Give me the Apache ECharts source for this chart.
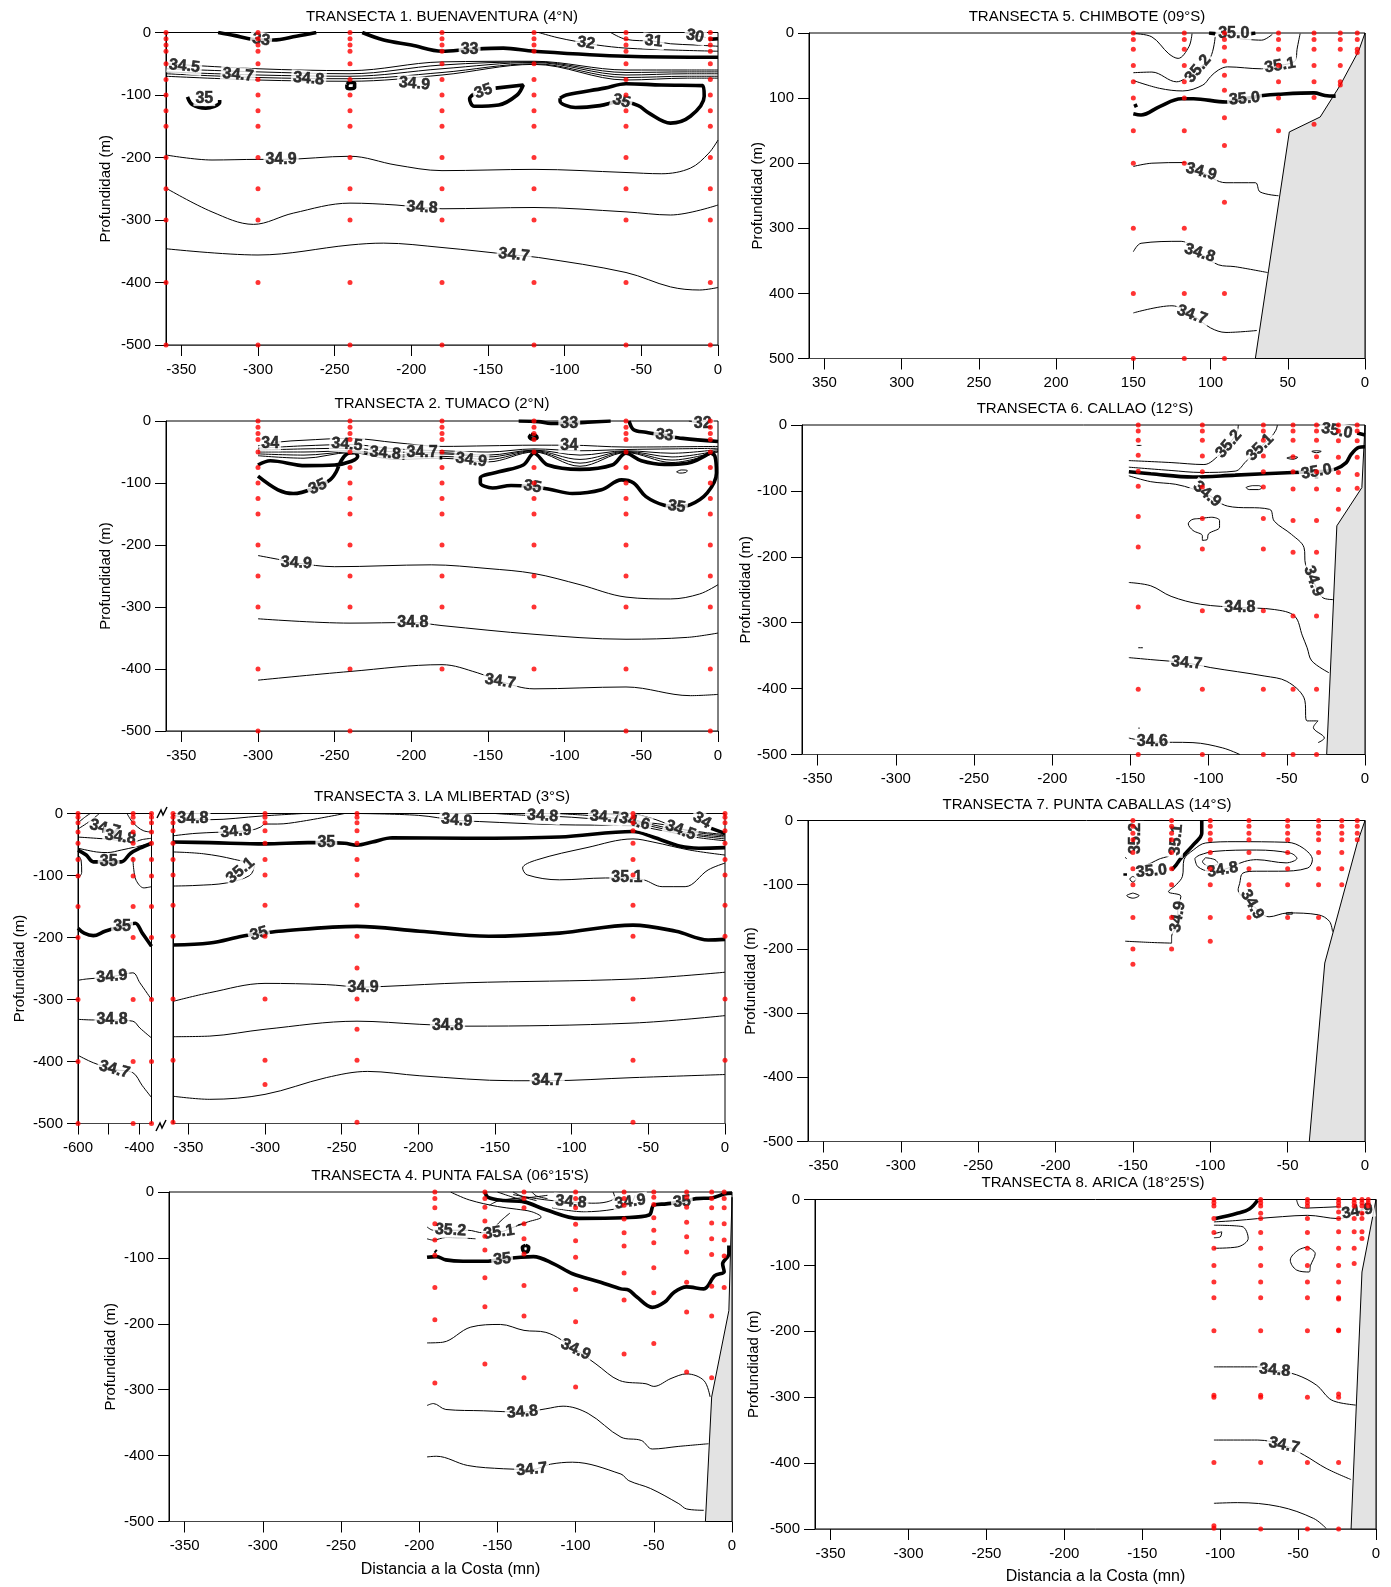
<!DOCTYPE html>
<html><head><meta charset="utf-8">
<script src="https://cdn.jsdelivr.net/npm/echarts@6/dist/echarts.min.js"></script>
<style>html,body{margin:0;padding:0;background:#fff}#c{width:1391px;height:1587px}</style>
</head><body><div id="c"></div>
<script>
// ================= DATA =================
// ---- Transecta 1. Buenaventura ----
const p1Cols = [-360, -300, -240, -180, -120, -60, -5];
const p1StdDepth = [0, -10, -20, -30, -50, -75, -100, -125, -150, -200, -250, -300, -400, -500];
const p1Depths = [p1StdDepth, p1StdDepth, p1StdDepth, p1StdDepth, p1StdDepth, p1StdDepth, p1StdDepth];
const p1Thin = [
  [[-117,0],[-105,-8],[-93,-14],[-79,-20],[-60,-25],[-30,-28],[0,-30]],
  [[-70,0],[-60,-11],[-42,-14],[-31,-18],[-15,-20],[0,-22]],
  [[-22,0],[-15,-5],[-8,-8]],
  [[-360,-50],[-300,-58],[-240,-61],[-180,-47],[-120,-46],[-60,-60],[-20,-60],[0,-60]],
  [[-360,-58],[-300,-63],[-240,-66],[-180,-52],[-120,-47],[-60,-64],[-20,-63],[0,-63]],
  [[-360,-63],[-300,-68],[-240,-70],[-180,-58],[-120,-48],[-60,-68],[-20,-66],[0,-66]],
  [[-360,-66],[-300,-72],[-240,-74],[-180,-64],[-120,-50],[-60,-72],[-20,-70],[0,-70]],
  [[-360,-70],[-300,-76],[-240,-78],[-180,-68],[-120,-51],[-60,-76],[-20,-73],[0,-73]],
  [[-360,-196],[-330,-204],[-300,-203],[-285,-203],[-240,-198],[-210,-212],[-180,-221],[-120,-219],[-60,-224],[-37,-226],[-18,-217],[-6,-193],[0,-172]],
  [[-360,-249],[-330,-287],[-303,-307],[-277,-289],[-240,-273],[-210,-276],[-193,-280],[-180,-282],[-120,-280],[-60,-287],[-31,-292],[0,-276]],
  [[-360,-346],[-300,-356],[-240,-340],[-218,-337],[-180,-344],[-133,-356],[-117,-360],[-60,-384],[-31,-407],[-12,-412],[0,-408]]
];
const p1Thick = [
  [[-326,0],[-315,-5],[-306,-10],[-298,-12],[-290,-12],[-275,-6],[-262,0]],
  [[-232,0],[-218,-12],[-200,-20],[-180,-30],[-162,-27],[-140,-25],[-120,-30],[-60,-38],[0,-39.5]],
  [[-6,-11],[0,-10]],
  [[-242,-83],[-240,-80],[-237,-81],[-237,-88],[-240,-90],[-242,-88],[-242,-83]],
  [[-346,-103],[-343,-115],[-334,-121],[-325,-112],[-325,-108]],
  [[-145,-89],[-127,-84],[-131,-100],[-143,-116],[-159,-118],[-162,-106],[-159,-98]],
  [[-103,-105],[-99,-100],[-74,-89],[-60,-82],[-37,-84],[-10,-85],[-9,-102],[-18,-134],[-31,-145],[-45,-129],[-52,-117],[-63,-110],[-77,-117],[-93,-120],[-103,-110],[-103,-105]]
];
const p1Labels = [["33",-298,-12],["33",-162,-28],["32",-86,-17],["31",-42,-14],["30",-15,-6],["34.5",-348,-54],["34.7",-313,-68],["34.8",-267,-74],["34.9",-198,-82],["35",-335,-105],["35",-153,-94],["35",-63,-110],["34.9",-285,-203],["34.8",-193,-280],["34.7",-133,-356]];
const p1LabelRot = [-8,0,-8,-5,-12,-6,-6,-5,-5,0,20,-15,0,-3,-6];

// ---- Transecta 2. Tumaco ----
const p2Cols = [-300, -240, -180, -120, -60, -5];
const p2Full = [0, -10, -20, -30, -50, -75, -100, -125, -150, -200, -250, -300, -400, -500];
const p2Short = [0, -10, -20, -30, -50, -75, -100, -125, -150, -200, -250, -300, -400];
const p2Depths = [p2Full, p2Full, p2Short, p2Short, p2Full, p2Full];
const p2Thin = [
  [[-19,0],[-12,-4]],
  [[-300,-40],[-287,-34],[-270,-31],[-240,-28],[-210,-35],[-180,-41],[-150,-40],[-120,-39],[-97,-39],[-60,-42],[0,-41]],
  [[-300,-44],[-270,-40],[-240,-38],[-210,-45],[-180,-48],[-150,-50],[-120,-45],[-90,-48],[-60,-46],[-30,-45],[0,-44]],
  [[-300,-47],[-270,-45],[-240,-44],[-210,-50],[-180,-51],[-150,-55],[-120,-47],[-90,-55],[-60,-48],[-30,-52],[0,-46]],
  [[-300,-50],[-270,-50],[-240,-48],[-210,-55],[-180,-53],[-150,-58],[-120,-48],[-90,-62],[-60,-49],[-30,-58],[0,-48]],
  [[-300,-53],[-270,-55],[-240,-50],[-210,-58],[-180,-57],[-150,-62],[-120,-49],[-90,-68],[-60,-50],[-30,-63],[0,-49]],
  [[-300,-56],[-270,-60],[-240,-51],[-210,-62],[-180,-60],[-150,-66],[-120,-50],[-90,-73],[-60,-51],[-30,-67],[0,-50]],
  [[-27,-82],[-24,-79],[-20,-80],[-21,-83],[-25,-84],[-27,-82]],
  [[-300,-217],[-285,-224],[-275,-229],[-250,-235],[-187,-232],[-150,-238],[-120,-246],[-90,-264],[-60,-284],[-31,-287],[-12,-279],[0,-264]],
  [[-300,-319],[-240,-326],[-199,-325],[-180,-330],[-120,-344],[-60,-352],[-20,-349],[0,-342]],
  [[-300,-418],[-240,-404],[-180,-393],[-157,-406],[-142,-420],[-120,-432],[-60,-429],[-18,-443],[0,-441]]
];
const p2Thick = [
  [[-130,0],[-117,-1],[-109,-4],[-97,-4],[-85,-2],[-70,0]],
  [[-122,-22],[-119,-23],[-118,-27],[-121,-29],[-123,-26],[-122,-22]],
  [[-58,0],[-55,-14],[-47,-18],[-35,-23],[-23,-28],[0,-33]],
  [[-300,-89],[-287,-111],[-277,-117],[-261,-106],[-253,-95],[-249,-82],[-246,-65],[-242,-53],[-237,-51],[-235,-57],[-239,-65],[-250,-71],[-269,-72],[-292,-64],[-300,-71]],
  [[-5,-51],[-20,-68],[-35,-70],[-50,-64],[-60,-52],[-69,-71],[-90,-78],[-111,-71],[-120,-52],[-127,-71],[-143,-82],[-155,-92],[-155,-100],[-147,-108],[-135,-104],[-121,-106],[-110,-110],[-95,-117],[-76,-111],[-63,-95],[-55,-100],[-47,-122],[-35,-136],[-27,-138],[-18,-135],[-7,-116],[-1,-84],[-2,-57],[-5,-51]],
  [[-181,-57],[-181,-62]]
];
const p2Labels = [["33",-97,-4],["33",-35,-23],["32",-10,-4],["34",-292,-36],["34.5",-242,-38],["34.8",-217,-52],["34.7",-193,-51],["34.9",-161,-63],["34",-97,-39],["35",-261,-106],["35",-121,-106],["35",-27,-138],["34.9",-275,-229],["34.8",-199,-325],["34.7",-142,-420]];
const p2LabelRot = [0,-8,0,0,-5,-5,0,-8,0,25,-10,-8,-3,0,-8];

// ---- Transecta 3. La Libertad (left part and main part) ----
const p3aCols = [-600, -420, -360];
const p3aStd = [0, -6, -15, -30, -48, -74, -101, -150, -200, -300, -400, -500];
const p3aDepths = [p3aStd, p3aStd, p3aStd];
const p3aThin = [
  [[-600,-15],[-575,-5],[-560,0]],
  [[-600,-25],[-560,-12],[-530,0]],
  [[-600,-38],[-540,-40],[-489,-42],[-421,-46],[-390,-42],[-360,-40]],
  [[-600,-56],[-540,-62],[-504,-63],[-459,-59],[-413,-54],[-360,-48]],
  [[-440,0],[-425,-12],[-405,-22],[-385,-28],[-360,-30]],
  [[-600,-67],[-590,-75],[-588,-95],[-595,-102],[-600,-103]],
  [[-421,-70],[-418,-90],[-410,-108],[-385,-120],[-360,-118]],
  [[-600,-269],[-573,-267],[-489,-263],[-421,-257],[-398,-273],[-360,-300]],
  [[-600,-332],[-550,-333],[-489,-333],[-421,-335],[-398,-346],[-360,-362]],
  [[-600,-390],[-550,-402],[-481,-413],[-421,-418],[-390,-439],[-360,-458]]
];
const p3aThick = [
  [[-600,-59],[-573,-67],[-550,-78],[-504,-78],[-459,-78],[-428,-64],[-398,-56],[-360,-48]],
  [[-600,-185],[-580,-193],[-550,-197],[-512,-190],[-456,-182],[-413,-177],[-390,-193],[-360,-214]]
];
const p3aLabels = [["34.7",-512,-24],["34.8",-462,-38],["35",-500,-78],["35",-456,-182],["34.9",-489,-263],["34.8",-489,-333],["34.7",-481,-413]];
const p3aLabelRot = [-15,-8,0,0,5,0,-15];

const p3bCols = [-360, -300, -240, -60, 0];
const p3bDepths = [
  [0, -6, -15, -28, -48, -74, -99, -148, -198, -299, -398, -498],
  [0, -6, -15, -28, -48, -74, -99, -148, -198, -299, -398, -437],
  [0, -6, -15, -28, -48, -74, -99, -148, -198, -249, -299, -348, -398, -498],
  [0, -6, -15, -28, -48, -74, -99, -148, -198, -299, -398, -498],
  [0, -6, -15, -28, -48, -74, -99, -148, -198, -299, -398]
];
const p3bThin = [
  [[-360,-3],[-347,-8],[-336,-10],[-302,-4],[-275,0]],
  [[-360,-36],[-345,-32],[-319,-29],[-309,-27],[-303,-22],[-300,-17],[-292,-17],[-277,-13],[-248,0]],
  [[-240,0],[-200,-3],[-175,-11],[-160,-13],[-110,-18],[-60,-20],[-40,-28],[-20,-38],[0,-44]],
  [[-150,0],[-130,-3],[-119,-4],[-100,-6],[-60,-15],[-40,-25],[-20,-35],[0,-41]],
  [[-110,0],[-90,-3],[-78,-6],[-60,-12],[-40,-22],[-20,-33],[0,-38]],
  [[-80,0],[-65,-5],[-55,-13],[-40,-18],[-20,-30],[0,-36]],
  [[-60,0],[-45,-10],[-30,-24],[-15,-30],[0,-34]],
  [[0,-67],[-23,-59],[-47,-46],[-60,-41],[-90,-55],[-123,-75],[-132,-88],[-129,-99],[-108,-107],[-78,-104],[-64,-104],[-53,-107],[-41,-118],[-26,-118],[-11,-91],[0,-80]],
  [[-360,-62],[-340,-65],[-320,-74],[-307,-85],[-310,-100],[-325,-112],[-345,-116],[-360,-117]],
  [[-360,-303],[-336,-289],[-300,-274],[-260,-276],[-236,-280],[-223,-279],[-169,-273],[-60,-267],[0,-256]],
  [[-360,-360],[-336,-359],[-300,-348],[-240,-335],[-199,-340],[-181,-342],[-169,-343],[-60,-338],[0,-326]],
  [[-360,-456],[-336,-461],[-300,-453],[-260,-426],[-233,-416],[-199,-423],[-138,-431],[-116,-431],[-60,-426],[0,-421]]
];
const p3bThick = [
  [[-360,-46],[-336,-47],[-300,-49],[-272,-47],[-260,-47],[-248,-48],[-240,-51],[-230,-46],[-217,-39],[-169,-40],[-108,-38],[-60,-29],[-47,-38],[-29,-53],[-17,-56],[0,-55]],
  [[-360,-212],[-336,-209],[-315,-198],[-304,-194],[-291,-190],[-240,-182],[-199,-190],[-154,-198],[-108,-193],[-60,-180],[-32,-190],[-11,-204],[0,-203]],
  [[-9,-24],[0,-32]]
];
const p3bLabels = [["34.8",-347,-8],["34.9",-319,-29],["35.1",-316,-92],["35",-260,-47],["34.9",-175,-11],["34.8",-119,-4],["34.7",-78,-6],["34.6",-59,-13],["34.5",-29,-27],["34",-15,-11],["35.1",-64,-104],["35",-304,-194],["34.9",-236,-280],["34.8",-181,-342],["34.7",-116,-431]];
const p3bLabelRot = [0,5,40,0,-5,-3,-5,-15,-20,-30,0,15,0,0,0];

// ---- Transecta 4. Punta Falsa ----
const p4Cols = [-190, -158, -133, -100, -69, -50, -29, -13, -5];
const p4Depths = [
  [0, -10, -24, -48, -73, -96, -145, -194, -290],
  [0, -10, -23, -44, -67, -88, -130, -174, -261],
  [0, -10, -24, -48, -71, -94, -142, -188, -282],
  [0, -10, -24, -49, -74, -99, -148, -197, -296],
  [0, -10, -20, -41, -62, -82, -123, -164, -246],
  [0, -8, -19, -39, -58, -77, -115, -153, -230],
  [0, -8, -23, -46, -68, -91, -137, -182, -273],
  [0, -10, -24, -47, -71, -95, -143, -188, -282],
  [0, -10, -24, -48, -73, -97, -145]
];
const p4Land = [[0,-8],[-2,-180],[-13,-311],[-17,-500],[0,-500]];
const p4Thin = [
  [[-180,0],[-168,-12],[-150,-22],[-138,-26],[-128,-30],[-122,-38],[-130,-45],[-137,-50]],
  [[-155,-20],[-150,-14],[-140,-10],[-128,-8],[-118,-5]],
  [[-150,0],[-140,-8],[-130,-15]],
  [[-140,0],[-133,-8],[-125,-13]],
  [[-128,0],[-125,-6],[-118,-10]],
  [[-140,-4],[-125,-10],[-115,-13],[-103,-15],[-90,-17],[-80,-15],[-75,-8],[-76,0]],
  [[-115,-24],[-95,-30],[-75,-26],[-65,-18],[-62,-5]],
  [[-195,-53],[-191,-58],[-180,-58],[-169,-58],[-159,-62],[-149,-61],[-137,-51],[-132,-48]],
  [[-195,-71],[-191,-73],[-183,-69],[-164,-71]],
  [[-153,-62],[-151,-52],[-147,-42],[-142,-32]],
  [[-195,-229],[-185,-228],[-167,-205],[-148,-201],[-133,-210],[-119,-213],[-100,-239],[-87,-261],[-72,-286],[-55,-291],[-50,-295],[-39,-283],[-29,-276],[-18,-286],[-14,-311]],
  [[-195,-324],[-191,-321],[-183,-330],[-159,-332],[-134,-334],[-119,-329],[-108,-325],[-92,-336],[-71,-372],[-58,-377],[-51,-390],[-34,-386],[-15,-382]],
  [[-195,-402],[-189,-401],[-169,-415],[-146,-420],[-128,-421],[-116,-413],[-102,-410],[-71,-428],[-66,-438],[-52,-450],[-34,-473],[-29,-481],[-18,-483]]
];
const p4Thick = [
  [[-158,0],[-156,-8],[-146,-13],[-133,-15],[-119,-27],[-98,-40],[-69,-39],[-53,-35],[-50,-20],[-42,-18],[-32,-15],[-23,-10],[-13,-9],[-5,-3],[0,-2]],
  [[-195,-99],[-189,-98],[-183,-103],[-172,-105],[-156,-105],[-147,-102],[-135,-99],[-127,-98],[-114,-109],[-102,-124],[-84,-137],[-71,-147],[-66,-149],[-61,-159],[-51,-175],[-43,-167],[-37,-152],[-29,-144],[-18,-147],[-11,-127],[-5,-121],[-6,-109],[-2,-94],[-2,-81]],
  [[-132,-81],[-130,-84],[-131,-91],[-133,-91],[-134,-84],[-132,-81]],
  [[-190,-89],[-189,-91]]
];
const p4Labels = [["34.8",-103,-15],["34.9",-65,-15],["35",-32,-15],["35.2",-180,-58],["35.1",-149,-61],["35",-147,-102],["34.9",-100,-239],["34.8",-134,-334],["34.7",-128,-421]];
const p4LabelRot = [-5,8,5,-3,8,5,-25,5,5];

// ---- Transecta 5. Chimbote ----
const p5Cols = [150, 117, 91, 56, 33, 16, 5];
const p5Depths = [
  [0, 10, 25, 50, 75, 100, 150, 200, 300, 400, 500],
  [0, 10, 25, 50, 75, 100, 150, 200, 300, 400, 500],
  [0, 10, 22, 43, 65, 88, 130, 173, 260, 400, 500],
  [0, 10, 25, 50, 75, 100, 150],
  [0, 10, 25, 50, 75, 99, 140],
  [0, 10, 25, 50, 75, 80],
  [0, 10, 25, 30]
];
const p5Land = [[0,0],[4,27],[16,80],[29,129],[49,152],[71,500],[0,500]];
const p5Thin = [
  [[150,1],[138,6],[127,32],[121,39],[114,21],[112,1]],
  [[150,61],[138,60],[122,75],[112,62],[108,55],[100,37],[97,6]],
  [[150,73],[133,85],[118,89],[105,80],[100,67],[95,57],[89,52],[67,55],[55,50],[45,42],[44,25],[42,1]],
  [[81,9],[67,11],[60,2]],
  [[150,205],[138,200],[117,199],[106,213],[90,230],[71,230],[68,244],[56,250]],
  [[150,336],[145,323],[119,320],[107,338],[95,356],[84,359],[63,368]],
  [[150,430],[125,419],[112,433],[100,453],[90,460],[70,457]]
];
const p5Thick = [
  [[101,0],[97,1]],
  [[74,1],[71,0]],
  [[150,124],[145,126],[133,113],[119,101],[111,101],[90,106],[78,101],[66,96],[56,94],[33,92],[26,96],[19,97]],
  [[149,109],[148,114]]
];
const p5Labels = [["35.0",85,1],["35.2",108,55],["35.1",55,50],["35.0",78,101],["34.9",106,213],["34.8",107,338],["34.7",112,433]];
const p5LabelRot = [0,50,10,5,-15,-18,-20];

// ---- Transecta 6. Callao ----
const p6Cols = [-145, -104, -65, -46, -31, -17, -5];
const p6Depths = [
  [0, -9, -23, -46, -70, -93, -139, -185, -276, -401, -500],
  [0, -9, -23, -47, -71, -94, -142, -188, -282, -401, -500],
  [0, -9, -23, -47, -71, -94, -142, -188, -282, -401, -500],
  [0, -9, -23, -48, -71, -97, -145, -193, -290, -401, -500],
  [0, -9, -23, -48, -71, -97, -145, -193, -290, -401, -500],
  [0, -9, -24, -49, -72, -98, -128],
  [0, -9, -24, -49, -75, -96]
];
const p6Land = [[0,0],[-2,-95],[-18,-153],[-24.5,-500],[0,-500]];
const p6Thin = [
  [[-151,-54],[-124,-57],[-103,-60],[-93,-45],[-87,-29],[-82,-12],[-81,0]],
  [[-151,-64],[-124,-69],[-105,-72],[-83,-70],[-76,-55],[-67,-34],[-60,-18],[-57,-8],[-56,0]],
  [[-151,-77],[-137,-86],[-121,-90],[-110,-97],[-101,-105],[-88,-123],[-61,-128],[-58,-146],[-47,-166],[-39,-186],[-38,-212],[-33,-237],[-27,-262],[-20,-265]],
  [[-72,-92],[-68,-92],[-66,-95],[-68,-98],[-74,-98],[-76,-95],[-72,-92]],
  [[-46,-48],[-43,-49],[-46,-52],[-50,-50],[-46,-48]],
  [[-31,-39],[-28,-40],[-31,-42],[-34,-40],[-31,-39]],
  [[-105,-142],[-98,-140],[-93,-145],[-93,-155],[-100,-165],[-101,-174],[-104,-175],[-104,-168],[-110,-160],[-113,-150],[-110,-143],[-105,-142]],
  [[-151,-239],[-137,-244],[-124,-260],[-105,-272],[-80,-277],[-58,-280],[-45,-290],[-40,-320],[-37,-338],[-34,-358],[-23,-376]],
  [[-151,-353],[-137,-356],[-114,-361],[-99,-368],[-64,-381],[-50,-389],[-39,-414],[-37,-449],[-30,-449],[-33,-459],[-26,-475],[-30,-482]],
  [[-151,-475],[-136,-481],[-110,-482],[-91,-490],[-80,-500]],
  [[-146,-31],[-143,-31]],
  [[-145,-338],[-142,-338]],
  [[-145,-460],[-144,-460]]
];
const p6Thick = [
  [[-151,-71],[-137,-74],[-110,-79],[-83,-76],[-46,-72],[-31,-71],[-19,-67],[-12,-57],[-9,-45],[-4,-34],[0,-33]],
  [[-5,-12],[0,-15]],
  [[-31,-78],[-31,-82]]
];
const p6Labels = [["35.2",-87,-29],["35.1",-67,-34],["35.0",-18,-9],["35.0",-31,-71],["34.9",-101,-105],["34.9",-33,-237],["34.8",-80,-277],["34.7",-114,-361],["34.6",-136,-481]];
const p6LabelRot = [50,45,-10,10,-40,-70,0,-5,0];

// ---- Transecta 7. Punta Caballas ----
const p7Cols = [-150, -125, -100, -75, -50, -30, -15, -5];
const p7Depths = [
  [0, -9, -20, -30, -50, -75, -100, -151, -200, -224],
  [0, -9, -20, -30, -50, -75, -100, -151, -200],
  [0, -9, -20, -30, -50, -75, -100, -151, -188],
  [0, -9, -20, -30, -50, -75, -100, -151],
  [0, -9, -20, -30, -50, -75, -100, -151],
  [0, -9, -20, -30, -50, -75, -100, -151],
  [0, -9, -20, -30, -50, -75, -100],
  [0, -9, -20, -30]
];
const p7Land = [[0,0],[-5,-35],[-26,-222],[-36,-500],[0,-500]];
const p7Thin = [
  [[-155,-57],[-154,-60]],
  [[-127,-56],[-133,-60],[-138,-66],[-146,-74]],
  [[-150,-87],[-148,-91],[-150,-96],[-152,-91],[-150,-87]],
  [[-150,-113],[-146,-117],[-150,-121],[-154,-117],[-150,-113]],
  [[-155,-188],[-138,-190],[-125,-191],[-125,-181],[-121,-160],[-121,-140],[-119,-118],[-127,-111],[-122,-100],[-118,-87],[-117,-61],[-111,-46],[-103,-35],[-84,-33],[-50,-34],[-40,-43],[-34,-61],[-37,-74],[-56,-79],[-70,-79],[-79,-82],[-81,-98],[-82,-108],[-73,-131],[-62,-150],[-50,-144],[-30,-147],[-23,-157],[-21,-173]],
  [[-110,-59],[-108,-72],[-100,-79],[-92,-77],[-78,-64],[-70,-61],[-51,-66],[-44,-59],[-48,-51],[-70,-46],[-97,-48],[-107,-54],[-110,-59]],
  [[-103,-58],[-97,-61],[-95,-67],[-101,-71],[-105,-64],[-103,-58]],
  [[-51,-144],[-47,-143],[-47,-146],[-51,-146],[-51,-144]]
];
const p7Thick = [
  [[-105.5,0],[-105.5,-20],[-111,-38],[-119,-59],[-122,-69],[-125,-77]],
  [[-155,-82],[-155,-86]]
];
const p7Labels = [["35.2",-148,-28],["35.1",-122,-30],["35.0",-138,-79],["34.8",-92,-77],["34.9",-121,-150],["34.9",-73,-131]];
const p7LabelRot = [90,85,5,10,80,-60];

// ---- Transecta 8. Arica ----
const p8Cols = [-104, -74, -44, -24, -14, -9, -5];
const p8Depths = [
  [0, -5, -10, -29, -50, -74, -100, -125, -149, -199, -297, -300, -399, -495, -499],
  [0, -5, -10, -21, -29, -50, -74, -100, -125, -149, -199, -297, -300, -399, -500],
  [0, -5, -10, -29, -50, -74, -100, -125, -149, -199, -300, -399, -500],
  [0, -5, -10, -19, -29, -49, -74, -100, -125, -149, -151, -198, -199, -295, -300, -399, -500],
  [0, -5, -10, -29, -49, -74, -97],
  [0, -5, -10, -21, -29, -49, -59],
  [0, -5, -10]
];
const p8Land = [[0,0],[-9,-110],[-16,-500],[0,-500]];
const p8Thin = [
  [[-104,-34],[-90,-32],[-76,-29],[-60,-26],[-44,-24],[-24,-29],[-8,-14],[-3,-9]],
  [[-51,0],[-49,-11],[-44,-13],[-24,-11],[-14,-21],[-5,-9]],
  [[-104,-39],[-86,-41],[-82,-59],[-89,-72],[-104,-74]],
  [[-104,-52],[-99,-49],[-100,-57],[-104,-58]],
  [[-44,-72],[-39,-82],[-42,-100],[-43,-110],[-51,-107],[-55,-92],[-50,-77],[-44,-72]],
  [[-104,-254],[-76,-254],[-65,-259],[-51,-266],[-38,-282],[-30,-302],[-24,-308],[-13,-312]],
  [[-104,-365],[-76,-365],[-59,-373],[-46,-388],[-32,-408],[-16,-425]],
  [[-104,-461],[-89,-460],[-62,-466],[-40,-484],[-32,-499]]
];
const p8Thick = [
  [[-103,-29],[-89,-21],[-81,-14],[-76,-1]]
];
const p8Labels = [["34.9",-12,-18],["34.8",-65,-259],["34.7",-59,-373]];
const p8LabelRot = [10,-5,-12];

// Tick values
const negTicks = [-350, -300, -250, -200, -150, -100, -50, 0];
const posTicks = [0, 50, 100, 150, 200, 250, 300, 350];
const p3aTicks = [-600, -500, -400];
const p3aTickLabels = [-600, -400];

// ================= LAYOUT / STYLE =================
const FONT = '"Liberation Sans", Arial, sans-serif';
const grids = [
  {left:166, top:32.5, width:552, height:312.5},   // 0: T1
  {left:166, top:421, width:552, height:310},      // 1: T2
  {left:78, top:813.5, width:73.5, height:310},    // 2: T3 left
  {left:173, top:813.5, width:552, height:310},    // 3: T3 main
  {left:169, top:1192, width:563, height:329.5},   // 4: T4
  {left:809, top:33, width:556, height:325.5},     // 5: T5
  {left:802, top:425, width:563, height:329.5},    // 6: T6
  {left:808, top:820.5, width:557, height:321},    // 7: T7
  {left:815, top:1199.5, width:561, height:329.5}  // 8: T8
].map(g => Object.assign({show:true, borderColor:'#000', borderWidth:1, backgroundColor:'transparent'}, g));

function xAx(gi, min, max, ticks, labels, opt) {
  return Object.assign({
    type:'value', gridIndex:gi, min, max,
    axisLine:{show:true, onZero:false, lineStyle:{color:'#444', width:1}},
    axisTick:{show:true, length:11, lineStyle:{color:'#000'}, customValues:ticks},
    axisLabel:{show:true, margin:17, fontSize:15, color:'#000', fontFamily:FONT, customValues:labels},
    splitLine:{show:false}
  }, opt || {});
}
function yAx(gi, min, max, gap, opt) {
  return Object.assign({
    type:'value', gridIndex:gi, min, max, interval:100,
    name:'Profundidad (m)', nameLocation:'middle', nameGap:gap,
    nameTextStyle:{fontSize:15, color:'#000', fontFamily:FONT},
    axisLine:{show:true, onZero:false, lineStyle:{color:'#000', width:1}},
    axisTick:{show:true, length:11, lineStyle:{color:'#000'}},
    axisLabel:{show:true, margin:15, fontSize:15, color:'#000', fontFamily:FONT},
    splitLine:{show:false}
  }, opt || {});
}
const xName = {name:'Distancia a la Costa (mn)', nameLocation:'middle', nameGap:40, nameTextStyle:{fontSize:16, color:'#000', fontFamily:FONT}};

const xAxes = [
  xAx(0, -360, 0, negTicks, negTicks),
  xAx(1, -360, 0, negTicks, negTicks),
  xAx(2, -600, -360, p3aTicks, p3aTickLabels),
  xAx(3, -360, 0, negTicks, negTicks),
  xAx(4, -360, 0, negTicks, negTicks, xName),
  xAx(5, 0, 360, posTicks, posTicks, {inverse:true}),
  xAx(6, -360, 0, negTicks, negTicks),
  xAx(7, -360, 0, negTicks, negTicks),
  xAx(8, -360, 0, negTicks, negTicks, xName)
];
const yAxes = [
  yAx(0, -500, 0, 53),
  yAx(1, -500, 0, 53),
  yAx(2, -500, 0, 51),
  yAx(3, -500, 0, 0, {name:'', axisTick:{show:false}, axisLabel:{show:false}}),
  yAx(4, -500, 0, 51),
  yAx(5, 0, 500, 44, {inverse:true}),
  yAx(6, -500, 0, 48),
  yAx(7, -500, 0, 50),
  yAx(8, -500, 0, 54)
];

function lineS(gi, pts, w) {
  return {type:'line', xAxisIndex:gi, yAxisIndex:gi, data:pts, showSymbol:false, symbol:'none',
    smooth:0.35, z:2, silent:true, lineStyle:{color:'#000', width:w}};
}
function panelSeries(gi, thin, thick, labels, rot, cols, depths, land) {
  const s = [];
  if (land) {
    s.push({type:'custom', xAxisIndex:gi, yAxisIndex:gi, z:1, silent:true, data:land,
      renderItem: function (params, api) {
        if (params.dataIndex !== 0) return null;
        return {type:'polygon', shape:{points: land.map(p => api.coord(p))},
          style:{fill:'#e3e3e3', stroke:'#000', lineWidth:1}};
      }});
  }
  thin.forEach(l => s.push(lineS(gi, l, 1)));
  thick.forEach(l => s.push(lineS(gi, l, 3.6)));
  s.push({type:'scatter', xAxisIndex:gi, yAxisIndex:gi, z:3, silent:true, symbolSize:1,
    itemStyle:{color:'rgba(0,0,0,0)'},
    data: labels.map((l, i) => ({value:[l[1], l[2]], name:l[0], label:{rotate:rot[i] || 0}})),
    label:{show:true, position:'inside', formatter:p => p.name, fontFamily:FONT, fontWeight:'bold',
      fontSize:16, color:'#000', textBorderColor:'#000', textBorderWidth:0.5,
      backgroundColor:'#fff', padding:[0,2]}});
  const dots = [];
  cols.forEach((x, i) => depths[i].forEach(d => dots.push([x, d])));
  s.push({type:'scatter', xAxisIndex:gi, yAxisIndex:gi, z:4, silent:true, symbolSize:5,
    itemStyle:{color:'#ff0000'}, data:dots});
  return s;
}

const series = [].concat(
  panelSeries(0, p1Thin, p1Thick, p1Labels, p1LabelRot, p1Cols, p1Depths, null),
  panelSeries(1, p2Thin, p2Thick, p2Labels, p2LabelRot, p2Cols, p2Depths, null),
  panelSeries(2, p3aThin, p3aThick, p3aLabels, p3aLabelRot, p3aCols, p3aDepths, null),
  panelSeries(3, p3bThin, p3bThick, p3bLabels, p3bLabelRot, p3bCols, p3bDepths, null),
  panelSeries(4, p4Thin, p4Thick, p4Labels, p4LabelRot, p4Cols, p4Depths, p4Land),
  panelSeries(5, p5Thin, p5Thick, p5Labels, p5LabelRot, p5Cols, p5Depths, p5Land),
  panelSeries(6, p6Thin, p6Thick, p6Labels, p6LabelRot, p6Cols, p6Depths, p6Land),
  panelSeries(7, p7Thin, p7Thick, p7Labels, p7LabelRot, p7Cols, p7Depths, p7Land),
  panelSeries(8, p8Thin, p8Thick, p8Labels, p8LabelRot, p8Cols, p8Depths, p8Land)
);

const titles = [
  ['TRANSECTA 1. BUENAVENTURA (4°N)', 442, 16.5],
  ['TRANSECTA 2. TUMACO (2°N)', 442, 404],
  ['TRANSECTA 3. LA MLIBERTAD (3°S)', 442, 797],
  ['TRANSECTA 4. PUNTA FALSA (06°15\'S)', 450, 1175.5],
  ['TRANSECTA 5. CHIMBOTE (09°S)', 1087, 17],
  ['TRANSECTA 6. CALLAO (12°S)', 1085, 409],
  ['TRANSECTA 7. PUNTA CABALLAS (14°S)', 1087, 805],
  ['TRANSECTA 8. ARICA (18°25\'S)', 1093, 1182.5]
];
const graphics = titles.map(t => ({type:'text', x:t[1], y:t[2], silent:true,
  style:{text:t[0], fill:'#000', font:'15px ' + FONT, align:'center', verticalAlign:'middle'}}));
// axis-break marks for Transecta 3
graphics.push({type:'polyline', silent:true, shape:{points:[[157,818],[161,810],[163,815],[167,807]]}, style:{stroke:'#000', lineWidth:1.5, fill:null}});
graphics.push({type:'polyline', silent:true, shape:{points:[[156,1131],[160,1123],[162,1128],[166,1120]]}, style:{stroke:'#000', lineWidth:1.5, fill:null}});

const chart = echarts.init(document.getElementById('c'), null, {renderer:'canvas'});
chart.setOption({
  animation:false,
  backgroundColor:'#fff',
  grid:grids,
  xAxis:xAxes,
  yAxis:yAxes,
  series:series,
  graphic:graphics
});
</script></body></html>
